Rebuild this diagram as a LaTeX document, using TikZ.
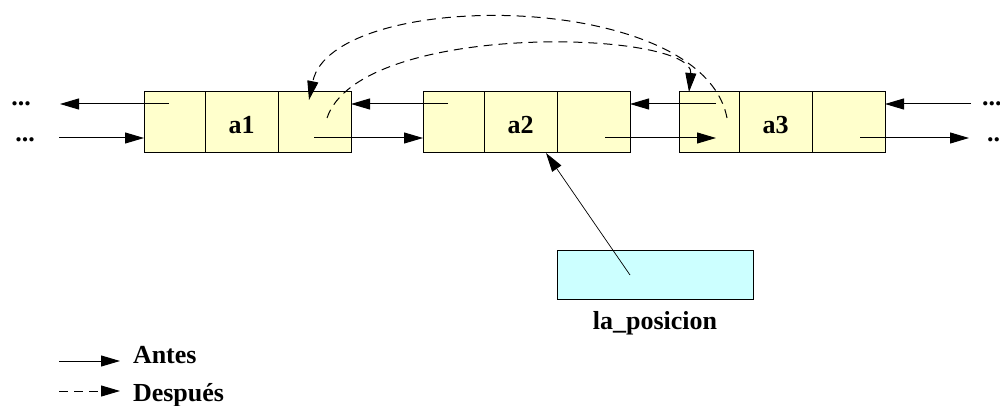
\documentclass[tikz,border=0pt]{standalone}
\usepackage{fontspec}
\setmainfont{Liberation Serif}
\usetikzlibrary{arrows.meta}
\definecolor{cellyellow}{HTML}{FFFFCC}
\definecolor{poscyan}{HTML}{CCFFFF}
\begin{document}
\begin{tikzpicture}[x=1pt,y=-1pt,
  cell/.style={draw, line width=1pt, fill=cellyellow, minimum height=61pt,
    inner sep=0pt, outer sep=0pt, anchor=north west},
  lbl/.style={font=\fontsize{26}{30}\selectfont\bfseries, inner sep=0pt, outer sep=0pt},
  link/.style={line width=1pt, -{Triangle[length=19pt,width=11pt]}},
  thinlink/.style={line width=0.7pt, -{Triangle[length=19pt,width=11pt]}},
  after/.style={link, dash pattern=on 9pt off 6pt}]
\useasboundingbox (0,0) rectangle (1000,406);
% list cells
\node[cell, minimum width=61pt] (p1) at (144,92) {};
\node[cell, minimum width=73pt] (d1) at (205,92) {};
\node[cell, minimum width=73pt] (n1) at (278,92) {};
\node[cell, minimum width=61pt] (p2) at (423,92) {};
\node[cell, minimum width=73pt] (d2) at (484,92) {};
\node[cell, minimum width=73pt] (n2) at (557,92) {};
\node[cell, minimum width=60pt] (p3) at (679,92) {};
\node[cell, minimum width=73pt] (d3) at (739,92) {};
\node[cell, minimum width=73pt] (n3) at (812,92) {};
\node[lbl, anchor=base] (t1) at (241.5,134) {a1};
\node[lbl, anchor=base] (t2) at (520.5,134) {a2};
\node[lbl, anchor=base] (t3) at (775.5,134) {a3};
% dots
\node[lbl, anchor=base] (dl1) at (21,106) {...};
\node[lbl, anchor=base] (dl2) at (25,142) {...};
\node[lbl, anchor=base west] (dr1) at (982,106) {...};
\node[lbl, anchor=base west] (dr2) at (987,142) {...};
% link coordinates
\coordinate (p1s) at (169,104);
\coordinate (lend) at (60,104);
\coordinate (lstart) at (59,138);
\coordinate (n1s) at (314,138);
\coordinate (p2s) at (448,104);
\coordinate (n2s) at (605,138);
\coordinate (n2e) at (716,138);
\coordinate (p3s) at (716,104);
\coordinate (n3s) at (860,138);
\coordinate (rend) at (969,138);
\coordinate (rstart) at (971,104);
% before links
\draw[link] (p1s) -- (lend);
\draw[link] (lstart) -- (lstart -| p1.west);
\draw[link] (n1s) -- (n1s -| p2.west);
\draw[link] (p2s) -- (p2s -| n1.east);
\draw[link] (n2s) -- (n2e);
\draw[link] (p3s) -- (p3s -| n2.east);
\draw[link] (n3s) -- (rend);
\draw[link] (rstart) -- (rstart -| n3.east);
% after links
\coordinate (o1) at (727,118);
\coordinate (o2) at (309,100);
\coordinate (i1) at (327,118);
\coordinate (i2) at (689,92);
\draw[after] (o1) .. controls (702,-12) and (332,-12) .. (o2);
\draw[after] (i1) .. controls (360,20) and (695,30) .. (i2);
% la_posicion
\node[draw, line width=1pt, fill=poscyan, minimum width=196pt, minimum height=49pt,
  inner sep=0pt, outer sep=0pt, anchor=north west] (pos) at (557,250) {};
\node[lbl, anchor=base] (poslbl) at (655,329) {la\_posicion};
\coordinate (poss) at (630,275);
\coordinate (postip) at (546,153);
\draw[thinlink] (poss) -- (postip);
% legend
\coordinate (la) at (59,361);
\coordinate (lb) at (59,391);
\node[lbl, anchor=base west] (antes) at (133,363) {Antes};
\node[lbl, anchor=base west] (despues) at (133,401) {Después};
\draw[link] (la) -- (la -| antes.west) [shorten >=13pt];
\draw[after] (lb) -- (lb -| despues.west) [shorten >=13pt];
\end{tikzpicture}
\end{document}
